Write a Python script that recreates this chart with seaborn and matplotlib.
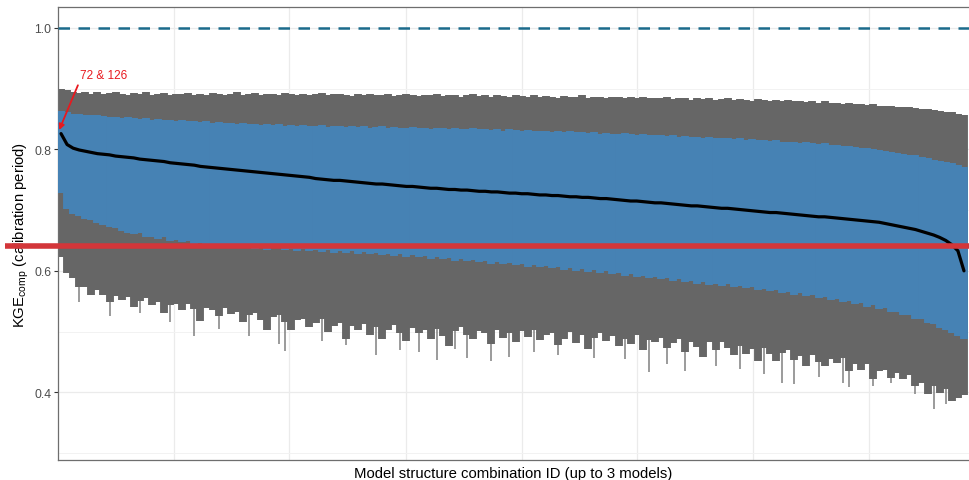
import numpy as np
import pandas as pd
import matplotlib
matplotlib.use("Agg")
import matplotlib.pyplot as plt
import seaborn as sns

# ---------------- data ----------------
grey_hi = [
    0.900, 0.897, 0.894, 0.893, 0.895, 0.892, 0.894, 0.891, 0.893, 0.895,
    0.892, 0.890, 0.893, 0.891, 0.894, 0.890, 0.892, 0.893, 0.889, 0.892,
    0.891, 0.893, 0.890, 0.892, 0.889, 0.893, 0.891, 0.890, 0.892, 0.894,
    0.890, 0.891, 0.893, 0.889, 0.891, 0.892, 0.890, 0.893, 0.891, 0.889,
    0.892, 0.890, 0.891, 0.893, 0.889, 0.891, 0.892, 0.890, 0.888, 0.891,
    0.890, 0.892, 0.889, 0.890, 0.891, 0.888, 0.890, 0.892, 0.889, 0.888,
    0.890, 0.889, 0.891, 0.888, 0.889, 0.890, 0.887, 0.889, 0.891, 0.888,
    0.889, 0.887, 0.890, 0.888, 0.886, 0.889, 0.888, 0.887, 0.889, 0.886,
    0.888, 0.887, 0.885, 0.888, 0.886, 0.887, 0.889, 0.885, 0.886, 0.887,
    0.885, 0.887, 0.886, 0.884, 0.886, 0.885, 0.887, 0.884, 0.885, 0.884,
    0.886, 0.883, 0.885, 0.884, 0.882, 0.885, 0.883, 0.884, 0.882, 0.883,
    0.884, 0.881, 0.883, 0.882, 0.880, 0.883, 0.881, 0.880, 0.882, 0.879,
    0.881, 0.879, 0.880, 0.878, 0.879, 0.877, 0.879, 0.876, 0.877, 0.875,
    0.876, 0.874, 0.875, 0.873, 0.874, 0.872, 0.871, 0.872, 0.870, 0.869,
    0.870, 0.868, 0.867, 0.866, 0.865, 0.864, 0.862, 0.861, 0.859, 0.857,
]
blue_hi = [
    0.863, 0.861, 0.859, 0.858, 0.857, 0.856, 0.857, 0.855, 0.854, 0.853,
    0.852, 0.853, 0.851, 0.850, 0.851, 0.849, 0.850, 0.848, 0.849, 0.847,
    0.848, 0.846, 0.847, 0.845, 0.846, 0.844, 0.845, 0.843, 0.844, 0.842,
    0.843, 0.841, 0.842, 0.840, 0.842, 0.840, 0.841, 0.839, 0.840, 0.839,
    0.840, 0.838, 0.839, 0.840, 0.837, 0.839, 0.838, 0.837, 0.839, 0.837,
    0.838, 0.836, 0.837, 0.838, 0.836, 0.837, 0.835, 0.836, 0.837, 0.835,
    0.836, 0.834, 0.835, 0.836, 0.834, 0.835, 0.833, 0.834, 0.835, 0.833,
    0.834, 0.832, 0.833, 0.831, 0.833, 0.832, 0.830, 0.832, 0.831, 0.830,
    0.831, 0.829, 0.830, 0.828, 0.830, 0.828, 0.829, 0.827, 0.828, 0.826,
    0.827, 0.826, 0.825, 0.827, 0.825, 0.824, 0.826, 0.824, 0.823, 0.824,
    0.822, 0.823, 0.821, 0.822, 0.820, 0.821, 0.819, 0.820, 0.818, 0.819,
    0.818, 0.817, 0.818, 0.816, 0.817, 0.815, 0.816, 0.814, 0.815, 0.813,
    0.813, 0.812, 0.811, 0.812, 0.810, 0.809, 0.810, 0.808, 0.807, 0.806,
    0.805, 0.804, 0.802, 0.803, 0.800, 0.799, 0.797, 0.796, 0.794, 0.793,
    0.791, 0.790, 0.787, 0.786, 0.783, 0.781, 0.779, 0.777, 0.774, 0.771,
]
blue_lo = [
    0.728, 0.702, 0.694, 0.690, 0.686, 0.683, 0.679, 0.676, 0.672, 0.670,
    0.666, 0.663, 0.660, 0.662, 0.656, 0.655, 0.652, 0.655, 0.649, 0.650,
    0.647, 0.649, 0.644, 0.646, 0.641, 0.645, 0.640, 0.643, 0.638, 0.641,
    0.638, 0.640, 0.636, 0.639, 0.635, 0.637, 0.640, 0.634, 0.636, 0.633,
    0.636, 0.632, 0.635, 0.631, 0.634, 0.630, 0.633, 0.629, 0.632, 0.628,
    0.631, 0.627, 0.630, 0.626, 0.628, 0.624, 0.627, 0.623, 0.626, 0.622,
    0.624, 0.620, 0.623, 0.619, 0.621, 0.617, 0.620, 0.616, 0.618, 0.614,
    0.617, 0.612, 0.615, 0.611, 0.613, 0.609, 0.612, 0.607, 0.610, 0.606,
    0.608, 0.604, 0.607, 0.602, 0.605, 0.600, 0.603, 0.598, 0.601, 0.597,
    0.599, 0.595, 0.597, 0.592, 0.595, 0.590, 0.592, 0.588, 0.590, 0.586,
    0.588, 0.584, 0.586, 0.582, 0.584, 0.579, 0.582, 0.577, 0.579, 0.575,
    0.578, 0.573, 0.575, 0.571, 0.573, 0.568, 0.570, 0.566, 0.568, 0.563,
    0.565, 0.561, 0.563, 0.558, 0.560, 0.555, 0.557, 0.552, 0.553, 0.548,
    0.550, 0.545, 0.547, 0.541, 0.543, 0.537, 0.538, 0.532, 0.533, 0.527,
    0.527, 0.521, 0.520, 0.514, 0.512, 0.506, 0.503, 0.497, 0.493, 0.487,
]
grey_lo = [
    0.623, 0.596, 0.588, 0.573, 0.573, 0.560, 0.568, 0.560, 0.549, 0.559,
    0.552, 0.557, 0.540, 0.551, 0.555, 0.543, 0.549, 0.530, 0.544, 0.546,
    0.535, 0.546, 0.537, 0.518, 0.539, 0.536, 0.525, 0.538, 0.529, 0.532,
    0.516, 0.527, 0.531, 0.519, 0.503, 0.524, 0.528, 0.516, 0.503, 0.519,
    0.521, 0.507, 0.514, 0.520, 0.500, 0.509, 0.514, 0.487, 0.509, 0.502,
    0.512, 0.495, 0.508, 0.488, 0.503, 0.510, 0.497, 0.484, 0.506, 0.498,
    0.502, 0.488, 0.505, 0.493, 0.476, 0.501, 0.507, 0.495, 0.487, 0.501,
    0.497, 0.479, 0.503, 0.489, 0.497, 0.482, 0.501, 0.491, 0.503, 0.486,
    0.494, 0.498, 0.478, 0.488, 0.499, 0.481, 0.494, 0.471, 0.489, 0.497,
    0.484, 0.492, 0.476, 0.488, 0.479, 0.495, 0.469, 0.486, 0.482, 0.489,
    0.473, 0.481, 0.488, 0.466, 0.482, 0.474, 0.458, 0.482, 0.470, 0.483,
    0.473, 0.462, 0.476, 0.463, 0.471, 0.451, 0.473, 0.463, 0.452, 0.465,
    0.470, 0.454, 0.459, 0.443, 0.461, 0.450, 0.443, 0.455, 0.448, 0.456,
    0.435, 0.446, 0.437, 0.446, 0.422, 0.435, 0.437, 0.423, 0.431, 0.422,
    0.429, 0.411, 0.416, 0.398, 0.410, 0.399, 0.405, 0.386, 0.390, 0.395,
]
median_kge = [
    0.826, 0.808, 0.802, 0.799, 0.797, 0.795, 0.793, 0.792, 0.791, 0.789,
    0.788, 0.787, 0.786, 0.784, 0.783, 0.782, 0.781, 0.780, 0.778, 0.777,
    0.776, 0.775, 0.774, 0.772, 0.771, 0.770, 0.769, 0.768, 0.767, 0.766,
    0.765, 0.764, 0.763, 0.762, 0.761, 0.760, 0.759, 0.758, 0.757, 0.756,
    0.755, 0.754, 0.752, 0.751, 0.750, 0.749, 0.749, 0.748, 0.747, 0.746,
    0.745, 0.744, 0.743, 0.743, 0.742, 0.741, 0.740, 0.739, 0.739, 0.738,
    0.737, 0.736, 0.736, 0.735, 0.734, 0.734, 0.733, 0.733, 0.732, 0.731,
    0.731, 0.730, 0.730, 0.729, 0.728, 0.728, 0.727, 0.727, 0.726, 0.725,
    0.725, 0.724, 0.724, 0.723, 0.722, 0.722, 0.721, 0.721, 0.720, 0.719,
    0.719, 0.718, 0.717, 0.716, 0.715, 0.715, 0.714, 0.713, 0.712, 0.712,
    0.711, 0.710, 0.709, 0.708, 0.707, 0.707, 0.706, 0.705, 0.704, 0.703,
    0.703, 0.702, 0.701, 0.700, 0.699, 0.698, 0.697, 0.696, 0.696, 0.695,
    0.694, 0.693, 0.692, 0.691, 0.690, 0.689, 0.689, 0.688, 0.687, 0.686,
    0.685, 0.684, 0.683, 0.682, 0.681, 0.680, 0.678, 0.676, 0.674, 0.672,
    0.670, 0.668, 0.665, 0.662, 0.659, 0.655, 0.650, 0.643, 0.633, 0.600,
]
# individual low outliers of the grey range (thin spikes)
spike_id = [4, 9, 14, 19, 23, 27, 32, 37, 38, 44, 48, 53, 57, 60, 63, 66, 68,
            72, 75, 79, 83, 89, 94, 98, 101, 104, 109, 113, 117, 120, 122, 126,
            130, 131, 135, 138, 142, 145, 147]
spike_lo = [0.548, 0.525, 0.530, 0.515, 0.493, 0.505, 0.493, 0.479, 0.468,
            0.485, 0.478, 0.461, 0.470, 0.466, 0.454, 0.472, 0.456, 0.451,
            0.458, 0.466, 0.462, 0.456, 0.455, 0.433, 0.447, 0.435, 0.444,
            0.438, 0.430, 0.416, 0.414, 0.425, 0.416, 0.409, 0.410, 0.415,
            0.398, 0.372, 0.380]
threshold_value = 0.641
perfect_value = 1.0
annot_text = "72 & 126"
annot_point = (0.7, 0.832)
annot_text_pos = (4.1, 0.923)
ytick_values = [0.4, 0.6, 0.8, 1.0]
ytick_labels = ["0.4", "0.6", "0.8", "1.0"]
xlabel = "Model structure combination ID (up to 3 models)"
ylabel = r"KGE$_{\mathregular{comp}}$ (calibration period)"

# ---------------- figure ----------------
n = len(median_kge)
combo_id = np.arange(1, n + 1)
df = pd.DataFrame({"id": combo_id, "median": median_kge})

sns.set_theme(style="white")
plt.rcParams["font.family"] = ["Liberation Sans", "DejaVu Sans"]
plt.rcParams["mathtext.fontset"] = "custom"
plt.rcParams["mathtext.rm"] = "Liberation Sans"

W, H = 969, 481
fig = plt.figure(figsize=(W / 100, H / 100), dpi=100)
ax = fig.add_axes([58 / W, 20 / H, 911 / W, 452.7 / H])

x0, x1 = 0.5, n + 0.83
ax.set_xlim(x0, x1)
ax.set_ylim(0.2885, 1.034)

# grid (ggplot theme_bw look)
grid_px = [174, 289, 406, 522, 637, 753, 869]
for px in grid_px:
    ax.axvline(x0 + (px - 58) / 911 * (x1 - x0), color="#EBEBEB", lw=0.9, zorder=0)
for gy in [0.3, 0.5, 0.7, 0.9]:
    ax.axhline(gy, color="#F2F2F2", lw=0.7, zorder=0)
for gy in ytick_values:
    ax.axhline(gy, color="#EBEBEB", lw=0.9, zorder=0)

bar_w = 911 / (x1 - x0) * 0.72 * 1.3  # points, slight overlap to avoid gaps
ax.vlines(spike_id, spike_lo, [grey_lo[i - 1] for i in spike_id], colors="#808080",
          lw=1.1, capstyle="butt", zorder=1.9)
ax.vlines(combo_id, grey_lo, grey_hi, colors="#666666", lw=bar_w,
          capstyle="butt", zorder=2)
ax.vlines(combo_id, blue_lo, blue_hi, colors="#4682B4", lw=bar_w,
          capstyle="butt", zorder=3)

sns.lineplot(data=df, x="id", y="median", color="black", lw=2.3, ax=ax,
             zorder=4, legend=False)

ax.axhline(perfect_value, color="#1C6B8C", lw=1.8, ls=(0, (4.6, 3.4)), zorder=5)

ax.axhline(threshold_value, xmin=-53 / 911, xmax=1.0, color="#D3363A", lw=4.0,
           clip_on=False, zorder=6, solid_capstyle="butt")

ax.annotate(annot_text, xy=annot_point, xytext=annot_text_pos,
            color="#E8191F", fontsize=8.5, ha="left", va="center", zorder=7,
            arrowprops=dict(arrowstyle="-|>", color="#E8191F", lw=1.3,
                            mutation_scale=8, shrinkA=1, shrinkB=0,
                            relpos=(0.0, 0.0)))

# axes styling
ax.set_xticks([])
ax.set_yticks(ytick_values)
ax.set_yticklabels(ytick_labels)
ax.tick_params(axis="y", which="major", length=3, width=0.8, color="#333333",
               labelsize=8.8, labelcolor="#4D4D4D", pad=2, left=True)
for side in ["left", "top", "bottom"]:
    ax.spines[side].set_visible(True)
    ax.spines[side].set_color("#6E6E6E")
    ax.spines[side].set_linewidth(0.9)
ax.spines["right"].set_visible(False)

ax.set_xlabel(xlabel, fontsize=10.7, color="black", labelpad=4)
ax.set_ylabel(ylabel, fontsize=10.7, color="black")
ax.yaxis.set_label_coords(-27 / 911, 0.5)

fig.savefig("out.png", dpi=100)
